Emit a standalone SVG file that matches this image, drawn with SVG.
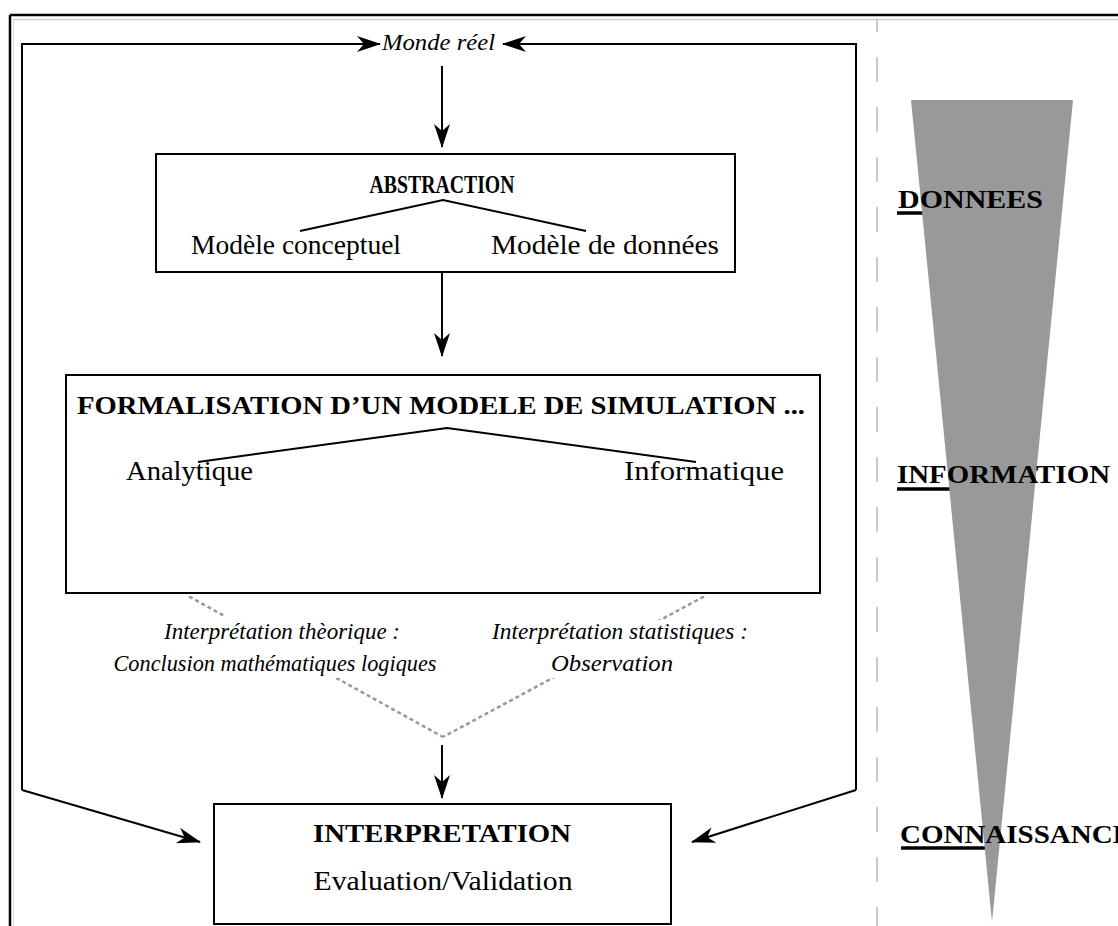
<svg xmlns="http://www.w3.org/2000/svg" width="1118" height="926" viewBox="0 0 1118 926">
<defs>
<marker id="ah" viewBox="0 0 24 16" refX="23" refY="8" markerWidth="24" markerHeight="16" markerUnits="userSpaceOnUse" orient="auto">
<path d="M0,0 L24,8 L0,16 L7,8 Z" fill="#000"/>
</marker>
<style>
.ln{fill:none;stroke:#000;stroke-width:2}
.box{fill:#fff;stroke:#000;stroke-width:2}
.dash{fill:none;stroke:#999;stroke-width:2.5;stroke-dasharray:4 3}
.t{font-family:"Liberation Serif","Times New Roman",serif;fill:#000}
.b{font-weight:bold}
.i{font-style:italic}
</style>
</defs>
<rect width="1118" height="926" fill="#fff"/>
<!-- frame -->
<line x1="10" y1="15" x2="1118" y2="15" stroke="#000" stroke-width="2.5"/>
<line x1="13" y1="19.5" x2="1118" y2="19.5" stroke="#ccc" stroke-width="1.5"/>
<line x1="10" y1="15" x2="10" y2="926" stroke="#000" stroke-width="2.5"/>
<line x1="13.5" y1="19" x2="13.5" y2="926" stroke="#ddd" stroke-width="1"/>
<line x1="877" y1="19" x2="877" y2="926" stroke="#ccc" stroke-width="2" stroke-dasharray="25 25" stroke-dashoffset="12"/>

<!-- right pyramid -->
<g id="scale">
<line x1="897" y1="213" x2="960" y2="213" stroke="#000" stroke-width="3.5"/>
<line x1="897" y1="489" x2="990" y2="489" stroke="#000" stroke-width="3.5"/>
<line x1="901" y1="848" x2="990" y2="848" stroke="#000" stroke-width="3.5"/>
<polygon points="911,100 1073,100 992,922" fill="#999"/>
<text class="t b" x="898" y="208" font-size="25" textLength="145" lengthAdjust="spacingAndGlyphs">DONNEES</text>
<text class="t b" x="897" y="483" font-size="26" textLength="213" lengthAdjust="spacingAndGlyphs">INFORMATION</text>
<text class="t b" x="900" y="843" font-size="25" textLength="232" lengthAdjust="spacingAndGlyphs">CONNAISSANCE</text>
</g>

<!-- connectors -->
<g id="connectors">
<polyline class="ln" points="22,790 22,44 380,44" marker-end="url(#ah)"/>
<polyline class="ln" points="22,790 22,790 200,842" marker-end="url(#ah)"/>
<polyline class="ln" points="856,790 856,44 503,44" marker-end="url(#ah)"/>
<polyline class="ln" points="856,790 856,790 692,842" marker-end="url(#ah)"/>
<line class="ln" x1="442" y1="66" x2="442" y2="147" marker-end="url(#ah)"/>
<line class="ln" x1="442" y1="273" x2="442" y2="356" marker-end="url(#ah)"/>
<line class="ln" x1="442" y1="745" x2="442" y2="798" marker-end="url(#ah)"/>
<polyline class="dash" points="190,484 190,597 443,737"/>
<polyline class="dash" points="703,484 703,597 443,737"/>
</g>

<g id="monde">
<text class="t i" x="382" y="50" font-size="24" textLength="113" lengthAdjust="spacingAndGlyphs">Monde réel</text>
</g>

<g id="abstraction">
<rect class="box" x="156" y="154" width="579" height="118"/>
<text class="t b" x="442" y="193" font-size="25" text-anchor="middle" textLength="145" lengthAdjust="spacingAndGlyphs">ABSTRACTION</text>
<polyline class="ln" points="300,231 443,200 586,231" stroke-width="2.5"/>
<text class="t" x="191" y="254" font-size="27" textLength="210" lengthAdjust="spacingAndGlyphs">Modèle conceptuel</text>
<text class="t" x="491" y="254" font-size="27" textLength="228" lengthAdjust="spacingAndGlyphs">Modèle de données</text>
</g>

<g id="formalisation">
<rect class="box" x="66" y="375" width="754" height="218"/>
<text class="t b" x="77" y="414" font-size="26" textLength="728" lengthAdjust="spacingAndGlyphs">FORMALISATION D’UN MODELE DE SIMULATION ...</text>
<polyline class="ln" points="198,462 447,428 696,462" stroke-width="2.5"/>
<text class="t" x="126" y="480" font-size="27" textLength="127" lengthAdjust="spacingAndGlyphs">Analytique</text>
<text class="t" x="624" y="480" font-size="27" textLength="160" lengthAdjust="spacingAndGlyphs">Informatique</text>
</g>

<g id="interp-theorique">
<rect x="108" y="616" width="334" height="62" fill="#fff"/>
<text class="t i" x="282" y="639" font-size="24" text-anchor="middle" textLength="236" lengthAdjust="spacingAndGlyphs">Interprétation thèorique :</text>
<text class="t i" x="275" y="671" font-size="24" text-anchor="middle" textLength="323" lengthAdjust="spacingAndGlyphs">Conclusion mathématiques logiques</text>
</g>

<g id="interp-stat">
<rect x="486" y="620" width="268" height="58" fill="#fff"/>
<text class="t i" x="620" y="639" font-size="24" text-anchor="middle" textLength="256" lengthAdjust="spacingAndGlyphs">Interprétation statistiques  :</text>
<text class="t i" x="612" y="671" font-size="24" text-anchor="middle" textLength="122" lengthAdjust="spacingAndGlyphs">Observation</text>
</g>

<g id="interpretation">
<rect class="box" x="214" y="804" width="457" height="120"/>
<text class="t b" x="442" y="842" font-size="25" text-anchor="middle" textLength="258" lengthAdjust="spacingAndGlyphs">INTERPRETATION</text>
<text class="t" x="443" y="890" font-size="27" text-anchor="middle" textLength="259" lengthAdjust="spacingAndGlyphs">Evaluation/Validation</text>
</g>
</svg>
